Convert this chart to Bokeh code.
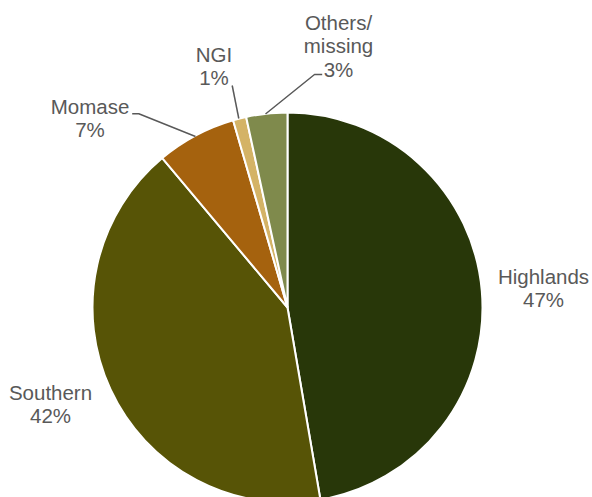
import numpy as np
from bokeh.plotting import figure
from bokeh.models import Range1d, ColumnDataSource
from bokeh.core.properties import value
from bokeh.embed import file_html
from bokeh.resources import INLINE

# ---- data (slice sizes as drawn in the reference, clockwise from 12 o'clock) ----
regions = ["Highlands", "Southern", "Momase", "NGI", "Others/\nmissing"]
shares = [47.3, 41.6, 6.6, 1.1, 3.4]
pct_labels = ["47%", "42%", "7%", "1%", "3%"]
colors = ["#283709", "#575406", "#A5620E", "#D4B366", "#7F8A4C"]

# ---- layout (screen pixel coordinates) ----
W, H = 592, 497
def sy(Y):
    return 497 - Y

cx, cy, r = 287, sy(307), 195

p = figure(width=W, height=H, output_backend="svg", toolbar_location=None,
           x_range=Range1d(0, W), y_range=Range1d(sy(H), sy(0)),
           x_axis_location=None, y_axis_location=None, min_border=0)
p.grid.visible = False
p.outline_line_color = None
p.background_fill_color = "white"
p.border_fill_color = "white"

frac = np.array(shares) / np.sum(shares)
cum = np.concatenate([[0], np.cumsum(frac)])
start = np.pi / 2 - 2 * np.pi * cum[:-1]
end = np.pi / 2 - 2 * np.pi * cum[1:]
src = ColumnDataSource(dict(start=start, end=end, color=colors, region=regions, share=shares))
p.wedge(x=cx, y=cy, radius=r, start_angle="start", end_angle="end", direction="clock",
        fill_color="color", line_color="white", line_width=2, source=src)

# labels: (x centre, baselines of each line)
label_pos = {
    "Highlands": (543, [284.3, 307]),
    "Southern": (50, [400, 423]),
    "Momase": (89.5, [114.3, 137.3]),
    "NGI": (213.5, [61.7, 84.5]),
    "Others/\nmissing": (338, [30, 53.3, 76.5]),
}
shift = 8
tx, ty, tt = [], [], []
for name, pct in zip(regions, pct_labels):
    x, bases = label_pos[name]
    lines = name.split("\n") + [pct]
    for line, b in zip(lines, bases):
        tx.append(x)
        ty.append(sy(b - shift))
        tt.append(line)
p.text(x=tx, y=ty, text=tt, text_align="center", text_baseline="alphabetic",
       text_font=value("Liberation Sans"), text_font_size="20.5px", text_color="#595959")

leaders = [
    [(131.7, 113.3), (138.3, 113.3), (195, 136)],
    [(231.7, 85), (238.3, 118)],
    [(321.7, 74), (314, 74), (265, 113.5)],
]
p.multi_line(xs=[[a for a, _ in l] for l in leaders], ys=[[sy(b) for _, b in l] for l in leaders],
             line_color="#595959", line_width=1.5)

open("out.html", "w").write(file_html(p, INLINE))
